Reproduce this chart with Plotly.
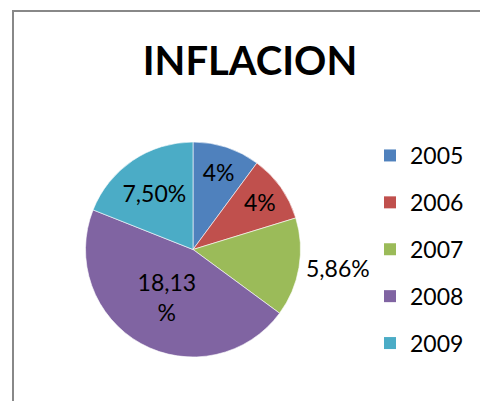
import plotly.graph_objects as go

years = ["2005", "2006", "2007", "2008", "2009"]
values = [4.0, 4.0, 5.86, 18.13, 7.50]
labels_text = ["4%", "4%", "5,86%", "18,13<br>%", "7,50%"]
positions = ["inside", "inside", "outside", "inside", "inside"]
colors = ["#4F81BD", "#C0504D", "#9BBB59", "#8064A2", "#4BACC6"]

FONT = "Lato"
W, H = 480, 401
cx, cy, r = 193, 249.5, 107.5

fig = go.Figure()
fig.add_trace(go.Pie(
    labels=years, values=values, text=labels_text,
    textinfo="text", textposition=positions,
    sort=False, direction="clockwise", rotation=0,
    marker=dict(colors=colors, line=dict(color="white", width=0.6)),
    insidetextorientation="horizontal",
    textfont=dict(family=FONT, size=23, color="black"),
    domain=dict(x=[(cx - r) / W, (cx + r) / W],
                y=[(H - cy - r) / H, (H - cy + r) / H]),
    showlegend=False, hoverinfo="label+value",
))

for i, (yr, col) in enumerate(zip(years, colors)):
    fig.add_trace(go.Scatter(
        x=[None], y=[None], mode="markers", name=yr,
        marker=dict(symbol="square", size=15, color=col),
        legendgroup=yr, showlegend=True,
    ))

fig.update_layout(
    width=W, height=H,
    margin=dict(l=0, r=0, t=0, b=0),
    paper_bgcolor="white", plot_bgcolor="white",
    xaxis=dict(visible=False), yaxis=dict(visible=False),
    title=dict(text="<b>INFLACION</b>", x=250 / W, xanchor="center",
               y=1 - 61 / H, yanchor="middle",
               font=dict(family=FONT, size=40, color="black")),
    legend=dict(x=370 / W, xanchor="left", y=1 - 134 / H, yanchor="top",
                font=dict(family=FONT, size=23, color="black"),
                tracegroupgap=14, itemsizing="constant",
                bgcolor="rgba(0,0,0,0)", borderwidth=0),
    shapes=[dict(type="rect", xref="paper", yref="paper",
                 x0=13 / W, x1=1.5, y0=-0.5, y1=1 - 11 / H,
                 line=dict(color="#888888", width=2))],
)

fig.write_html("out.html", config={"displayModeBar": False},
               post_script="document.body.style.margin='0';document.body.style.overflow='hidden';")
